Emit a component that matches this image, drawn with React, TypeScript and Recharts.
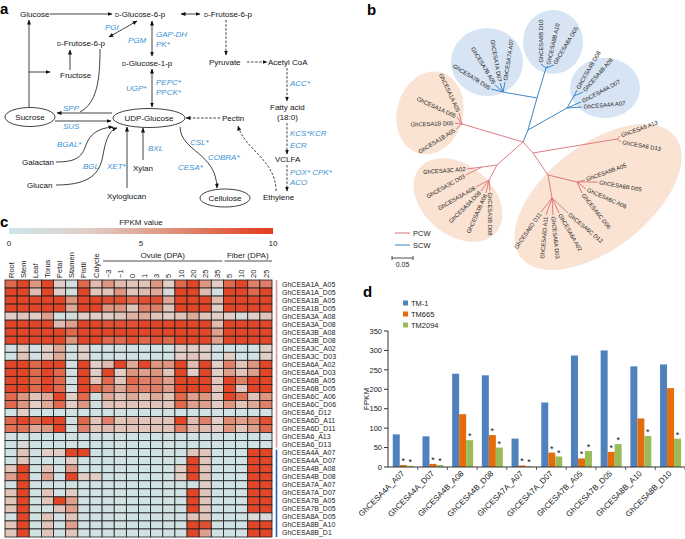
import React from 'react';
import { BarChart, Bar, XAxis, YAxis, LabelList, ScatterChart, Scatter, ReferenceLine } from 'recharts';

const FONT = '"Liberation Sans", Arial, Helvetica, sans-serif';
const BLUE_TXT = '#3d92d2';

// ---------------- panel d data ----------------
const dGenes = ['GhCESA4A_A07', 'GhCESA4A_D07', 'GhCESA4B_A08', 'GhCESA4B_D08', 'GhCESA7A_A07', 'GhCESA7A_D07', 'GhCESA7B_A05', 'GhCESA7B_D05', 'GhCESA8B_A10', 'GhCESA8B_D10'];
const dTM1 = [84, 79, 240, 236, 73, 166, 287, 300, 259, 264];
const dTM665 = [5, 8, 136, 82, 4, 37, 22, 39, 125, 203];
const dTM2094 = [3, 5, 69, 50, 2, 27, 41, 59, 80, 73];
const dSig665 = [true, true, false, true, true, true, true, true, false, false];
const dSig2094 = [true, true, true, true, true, true, true, true, true, true];
const dSeries = ['TM-1', 'TM665', 'TM2094'];
const dColors = ['#4F81BD', '#E46C0A', '#9BBB59'];
const dTicks = [0, 50, 100, 150, 200, 250, 300, 350];

// ---------------- panel c data ----------------
const cCols = ['Root', 'Stem', 'Leaf', 'Torus', 'Petal', 'Stamen', 'Pistil', 'Calycle', '\u22123', '\u22121', '0', '1', '3', '5', '10', '20', '25', '35', '5', '10', '20', '25'];
const cRows = ['GhCESA1A_A05', 'GhCESA1A_D05', 'GhCESA1B_A05', 'GhCESA1B_D05', 'GhCESA3A_A08', 'GhCESA3A_D08', 'GhCESA3B_A08', 'GhCESA3B_D08', 'GhCESA3C_A02', 'GhCESA3C_D03', 'GhCESA6A_A02', 'GhCESA6A_D03', 'GhCESA6B_A05', 'GhCESA6B_D05', 'GhCESA6C_A06', 'GhCESA6C_D06', 'GhCESA6_D12', 'GhCESA6D_A11', 'GhCESA6D_D11', 'GhCESA6_A13', 'GhCESA6_D13', 'GhCESA4A_A07', 'GhCESA4A_D07', 'GhCESA4B_A08', 'GhCESA4B_D08', 'GhCESA7A_A07', 'GhCESA7A_D07', 'GhCESA7B_A05', 'GhCESA7B_D05', 'GhCESA8A_D05', 'GhCESA8B_A10', 'GhCESA8B_D1'];
const cFpkm = [
  [8, 9.5, 6, 9.5, 3, 1, 8, 4, 6, 4, 3.5, 3.5, 6, 3, 8, 9.5, 6, 3, 8, 9.5, 7, 7],
  [9.5, 9.5, 4, 9.5, 3, 1, 9.5, 3.5, 3.5, 6, 3.5, 4, 5, 1.5, 9.5, 9.5, 4, 1, 9.5, 9.5, 8, 9.5],
  [9.5, 9.5, 9.5, 9.5, 9.5, 6, 9.5, 9.5, 9, 9, 8, 9, 9, 5, 9.5, 9.5, 9.5, 4, 9.5, 9.5, 9.5, 9.5],
  [9.5, 9.5, 9.5, 9.5, 9.5, 5, 9.5, 9.5, 6, 6, 3.5, 7, 7, 3.5, 9.5, 9.5, 9.5, 3, 9.5, 9.5, 9.5, 9.5],
  [3, 3.5, 3, 5.5, 1, 1, 3, 3, 3, 3.5, 4.5, 5, 3.5, 3, 3.5, 5, 3.5, 3, 3, 1.5, 3, 3.5],
  [9.5, 9.5, 9.5, 9.5, 4, 5.5, 9.5, 9.5, 9, 9, 9, 9.5, 9.5, 9.5, 9.5, 9.5, 9.5, 4, 9.5, 9.5, 9.5, 9.5],
  [9.5, 9.5, 9.5, 9.5, 9.5, 8, 9.5, 9.5, 9.5, 9.5, 9.5, 9.5, 9.5, 9.5, 9.5, 9.5, 9.5, 5.5, 9.5, 9.5, 9.5, 9.5],
  [9.5, 9.5, 9.5, 9.5, 9.5, 6, 9.5, 9.5, 8, 8, 9, 8, 9, 8, 9.5, 9.5, 9.5, 5.5, 9.5, 9.5, 9.5, 9.5],
  [0.5, 3, 0.5, 3, 5, 0.5, 3, 0.5, 0.5, 0.5, 0.5, 0.5, 0.5, 0.5, 3, 3, 3, 0.5, 0.5, 0.5, 0.5, 3],
  [0.5, 3.5, 0.5, 3, 5, 0.5, 3, 0.5, 0.5, 0.5, 0.5, 0.5, 0.5, 0.5, 3, 3.5, 3, 0.5, 3, 0.5, 0.5, 3],
  [9.5, 9.5, 8, 9.5, 9.5, 1, 9.5, 3, 4, 9.5, 5, 9.5, 6, 6, 9.5, 4, 9.5, 3, 7, 3.5, 6, 9.5],
  [9.5, 9.5, 8, 9.5, 8, 1, 9.5, 3, 9.5, 3, 6, 5.5, 6, 3.5, 9.5, 3, 9.5, 3, 5.5, 3.5, 5.5, 9.5],
  [9.5, 9.5, 8, 9.5, 8, 1, 9.5, 3.5, 8, 3.5, 8, 7, 7, 5.5, 9.5, 9.5, 9.5, 3.5, 9.5, 7, 9.5, 9.5],
  [9.5, 9.5, 8, 9.5, 8, 1, 9.5, 8, 7, 5, 7, 7, 7, 5.5, 9.5, 9.5, 9.5, 3.5, 9.5, 3.5, 9.5, 9.5],
  [8, 6, 3.5, 5, 9.5, 3, 8, 1, 5, 3.5, 5, 3.5, 5, 3.5, 8, 5.5, 6, 3, 9.5, 7.5, 3.5, 6],
  [8, 6, 3, 5, 8, 3, 6, 1, 3.5, 3.5, 3.5, 3.5, 3.5, 3.5, 8, 5.5, 5.5, 3, 6, 3.5, 5, 7],
  [0.5, 3, 0.5, 0.5, 0.5, 0.5, 0.5, 0.5, 0.5, 0.5, 0.5, 0.5, 0.5, 0.5, 0.5, 0.5, 0.5, 0.5, 0.5, 0.5, 0.5, 0.5],
  [8, 9.5, 8, 9.5, 9.5, 1, 8, 3.5, 7, 3.5, 4, 3.5, 3.5, 3.5, 9.5, 4, 7, 3, 6.5, 5.5, 6.5, 9],
  [7.5, 7.5, 5, 6, 9.5, 1, 7, 3.5, 4, 3.5, 3.5, 3.5, 3.5, 3.5, 7, 4, 4, 3, 6, 3.5, 5.5, 8],
  [0.5, 0.5, 0.5, 0.5, 0.5, 0.5, 0.5, 0.5, 0.5, 0.5, 0.5, 0.5, 0.5, 0.5, 0.5, 0.5, 0.5, 0.5, 0.5, 0.5, 0.5, 0.5],
  [0.5, 1.5, 0.5, 0.5, 0.5, 0.5, 0.5, 0.5, 0.5, 0.5, 0.5, 0.5, 0.5, 0.5, 0.5, 0.5, 0.5, 0.5, 0.5, 0.5, 0.5, 0.5],
  [0.5, 3.5, 0.5, 3, 3, 9.5, 9.5, 0.5, 0.5, 0.5, 0.5, 0.5, 0.5, 0.5, 0.5, 3.5, 3.5, 0.5, 0.5, 0.5, 9.5, 9.5],
  [0.5, 3.5, 0.5, 0.5, 0.5, 3, 0.5, 0.5, 0.5, 0.5, 0.5, 0.5, 0.5, 0.5, 0.5, 9.5, 3.5, 0.5, 0.5, 0.5, 9.5, 9.5],
  [3.5, 9.5, 0.5, 3.5, 0.5, 5.5, 0.5, 0.5, 0.5, 0.5, 0.5, 0.5, 0.5, 0.5, 3, 9.5, 3.5, 0.5, 0.5, 0.5, 9.5, 9.5],
  [5.5, 9.5, 0.5, 5.5, 0.5, 9.5, 3, 3, 0.5, 0.5, 0.5, 0.5, 0.5, 0.5, 3, 9.5, 3.5, 0.5, 0.5, 0.5, 9.5, 9.5],
  [0.5, 9.5, 0.5, 0.5, 0.5, 0.5, 0.5, 0.5, 0.5, 0.5, 0.5, 0.5, 0.5, 0.5, 0.5, 0.5, 3, 0.5, 0.5, 0.5, 9.5, 9.5],
  [3.5, 9.5, 0.5, 3.5, 0.5, 3, 0.5, 0.5, 0.5, 0.5, 0.5, 0.5, 0.5, 0.5, 0.5, 9.5, 3.5, 0.5, 0.5, 0.5, 9.5, 9.5],
  [3.5, 9.5, 0.5, 3.5, 9.5, 5.5, 0.5, 0.5, 0.5, 0.5, 0.5, 0.5, 0.5, 0.5, 0.5, 9.5, 3.5, 0.5, 0.5, 0.5, 9.5, 9.5],
  [3.5, 9.5, 0.5, 0.5, 3.5, 5.5, 0.5, 0.5, 0.5, 0.5, 0.5, 0.5, 0.5, 0.5, 0.5, 9.5, 3.5, 0.5, 0.5, 0.5, 9.5, 9.5],
  [0.5, 9.5, 0.5, 3.5, 0.5, 3.5, 0.5, 0.5, 0.5, 0.5, 0.5, 0.5, 0.5, 0.5, 0.5, 3.5, 3.5, 0.5, 0.5, 0.5, 1.5, 1.5],
  [3.5, 9.5, 0.5, 3.5, 0.5, 5.5, 0.5, 0.5, 0.5, 0.5, 0.5, 0.5, 0.5, 0.5, 0.5, 9.5, 9, 0.5, 0.5, 0.5, 9.5, 9.5],
  [3.5, 9.5, 0.5, 3.5, 0.5, 3.5, 0.5, 0.5, 0.5, 0.5, 0.5, 0.5, 0.5, 0.5, 0.5, 9.5, 5.5, 0.5, 0.5, 0.5, 9.5, 9.5],
];
const cColorTicks = [0, 5, 10];

// ---------------- colour scale ----------------
const STOPS: [number, number[]][] = [
  [0, [204, 230, 234]],
  [0.3, [226, 206, 199]],
  [0.6, [222, 150, 128]],
  [1, [225, 58, 27]],
];
function heatColor(v: number) {
  const t = Math.max(0, Math.min(1, v / 10));
  for (let i = 1; i < STOPS.length; i++) {
    if (t <= STOPS[i][0]) {
      const [t0, c0] = STOPS[i - 1];
      const [t1, c1] = STOPS[i];
      const f = (t - t0) / (t1 - t0);
      const c = c0.map((x, k) => Math.round(x + (c1[k] - x) * f));
      return `rgb(${c[0]},${c[1]},${c[2]})`;
    }
  }
  return 'rgb(225,58,27)';
}

// ---------------- layout ----------------
const HM_TOP = 250, HM_W = 340, HM_H = 289;
const HM_X0 = 5, HM_X1 = 272, HM_Y0 = 280, HM_Y1 = 537;
const CW = (HM_X1 - HM_X0) / cCols.length;
const CH = (HM_Y1 - HM_Y0) / cRows.length;

const D_LEFT = 340, D_TOP = 280, D_W = 345, D_H = 259;
const D_PLOT_L = 388, D_PLOT_T = 331, D_PLOT_B = 467, D_PLOT_R = 685;
const D_BW = (D_PLOT_R - D_PLOT_L) / dGenes.length;

const cells = cFpkm.flatMap((row, r) => row.map((v, c) => ({ c, r, v })));
const dData = dGenes.map((g, i) => ({ g, a: dTM1[i], b: dTM665[i], c: dTM2094[i], sb: dSig665[i], sc: dSig2094[i] }));

const CellShape = (p: any) => (
  <rect x={p.cx - CW / 2} y={p.cy - CH / 2} width={CW} height={CH} fill={heatColor(p.payload.v)} stroke="#1d1d1d" strokeWidth={0.8} />
);
const ColTick = (p: any) => (
  <text x={p.x + 2.6} y={p.y} fontSize={7.5} fill="#222" textAnchor="start" transform={`rotate(-90, ${p.x + 2.6}, ${p.y})`}>
    {cCols[p.payload.value]}
  </text>
);
const RowTick = (p: any) => (
  <text x={p.x + 10} y={p.y} dy={2.5} fontSize={7} fill="#222" textAnchor="start">
    {cRows[p.payload.value]}
  </text>
);
const DTick = (p: any) => (
  <g>
    <line x1={p.x + D_BW / 2} x2={p.x + D_BW / 2} y1={p.y} y2={p.y + 3} stroke="#333" strokeWidth={0.8} />
    <text x={p.x + 2} y={p.y + 7} fontSize={8} fill="#222" textAnchor="end" transform={`rotate(-45, ${p.x + 2}, ${p.y + 7})`}>
      {p.payload.value}
    </text>
  </g>
);
const Star = (p: any) =>
  p.value ? (
    <text x={p.x + p.width / 2} y={p.y - 1} fontSize={9} fill="#111" textAnchor="middle">*</text>
  ) : null;

// ---------------- diagram helpers ----------------
const T = ({ x, y, children, blue = false, anchor = 'start', size = 8 }: any) => (
  <text x={x} y={y + 2.8} fontSize={size} fill={blue ? BLUE_TXT : '#111'} fontStyle={blue ? 'italic' : 'normal'} textAnchor={anchor}>
    {children}
  </text>
);
const SD = () => <tspan fontSize={5.6}>D</tspan>;

const Leaf = ({ x, y, a, t }: any) => {
  const rad = (a * Math.PI) / 180;
  const ox = x + Math.cos(rad) * 1.5;
  const oy = y + Math.sin(rad) * 1.5;
  const flip = Math.abs(a) > 90;
  const rot = flip ? a + 180 : a;
  return (
    <text x={ox} y={oy} dy={2} fontSize={5.8} fill="#222" textAnchor={flip ? 'end' : 'start'} transform={`rotate(${rot}, ${ox}, ${oy})`}>
      {t}
    </text>
  );
};

const ROOT: [number, number] = [523, 142];
const redSegs: number[][] = [
  [...ROOT, 462, 124], [462, 124, 459, 113], [462, 124, 457, 117], [462, 124, 455, 123], [462, 124, 456, 129],
  [...ROOT, 497, 165], [497, 165, 482, 167], [482, 167, 467, 169], [482, 167, 466, 175], [497, 165, 489, 180],
  [489, 180, 476, 187], [489, 180, 481, 191], [489, 180, 486, 193], [489, 180, 490, 191],
  [...ROOT, 533, 153], [533, 153, 617, 139], [617, 139, 620, 136], [617, 139, 621, 142],
  [533, 153, 548, 175], [548, 175, 577, 182], [577, 182, 585, 180], [577, 182, 598, 182], [577, 182, 586, 189], [577, 182, 582, 193],
  [548, 175, 552, 198], [552, 198, 568, 213], [552, 198, 559, 213], [552, 198, 553, 215], [552, 198, 546, 215], [552, 198, 541, 212],
];
const blueSegs: number[][] = [
  [...ROOT, 528, 130], [528, 130, 567, 108], [567, 108, 582, 107], [567, 108, 581, 102], [567, 108, 574, 96], [574, 96, 583, 92], [574, 96, 577, 90],
  [528, 130, 537, 98], [537, 98, 543, 78], [537, 98, 503, 92], [503, 92, 491, 89], [503, 92, 495, 85], [503, 92, 500, 83], [503, 92, 505, 82],
  [543, 78, 546, 68], [546, 68, 541, 64], [546, 68, 548, 66], [546, 68, 554, 65],
];
const leaves: [number, number, number, string][] = [
  [459, 113, -115, 'GhCESA1A A05'], [457, 117, -155, 'GhCESA1A D05'], [455, 123, 178, 'GhCESA1B D05'], [456, 129, 148, 'GhCESA1B A05'],
  [467, 169, 176, 'GhCESA3C A02'], [466, 175, 151, 'GhCESA3C D03'], [476, 187, 150, 'GhCESA3A A08'], [481, 191, 135, 'GhCESA3A D08'],
  [486, 193, 114, 'GhCESA3B A08'], [490, 191, 90, 'GhCESA3B D08'],
  [620, 136, -20, 'GhCESA6 A13'], [621, 142, 10, 'GhCESA6 D13'],
  [585, 180, -20, 'GhCESA6B A05'], [598, 182, 10, 'GhCESA6B D05'], [586, 189, 24, 'GhCESA6C A06'], [582, 193, 52, 'GhCESA6C D06'],
  [568, 213, 40, 'GhCESA6C D12'], [559, 213, 60, 'GhCESA6A A02'], [553, 215, 84, 'GhCESA6A D03'], [546, 215, 95, 'GhCESA6D A11'], [541, 212, 125, 'GhCESA6D D11'],
  [582, 107, -5, 'GhCESA4A A07'], [581, 102, -28, 'GhCESA4A D07'], [583, 92, -49, 'GhCESA4B A08'], [577, 90, -60, 'GhCESA4B D08'],
  [491, 89, -148, 'GhCESA7B D05'], [495, 85, -121, 'GhCESA7B A05'], [500, 83, -100, 'GhCESA7A D07'], [505, 82, -81, 'GhCESA7A A07'],
  [541, 64, -90, 'GhCESA8B D10'], [548, 66, -77, 'GhCESA8B A10'], [554, 65, -59, 'GhCESA8A D05'],
];

export default function App() {
  return (
    <div style={{ position: 'absolute', left: 0, top: 0, width: 685, height: 539, background: '#fff', fontFamily: FONT, overflow: 'hidden' }}>
      {/* ---------- panel c heatmap ---------- */}
      <div style={{ position: 'absolute', left: 0, top: HM_TOP }}>
        <ScatterChart width={HM_W} height={HM_H} margin={{ top: 0, right: 0, bottom: HM_TOP + HM_H - HM_Y1, left: HM_X0 }}>
          <XAxis type="number" dataKey="c" domain={[-0.5, cCols.length - 0.5]} ticks={cCols.map((_, i) => i)} orientation="top"
            height={HM_Y0 - HM_TOP} interval={0} tickLine={false} axisLine={false} tickSize={0} tickMargin={2} tick={<ColTick />} />
          <YAxis type="number" dataKey="r" domain={[-0.5, cRows.length - 0.5]} ticks={cRows.map((_, i) => i)} reversed orientation="right"
            width={HM_W - HM_X1} interval={0} tickLine={false} axisLine={false} tickSize={0} tickMargin={0} tick={<RowTick />} />
          <Scatter data={cells} shape={CellShape} isAnimationActive={false} />
          <ReferenceLine y={16.5} stroke="#000" strokeWidth={1.6} />
        </ScatterChart>
      </div>

      {/* ---------- panel d bars ---------- */}
      <div style={{ position: 'absolute', left: D_LEFT, top: D_TOP }}>
        <BarChart width={D_W} height={D_H} data={dData} margin={{ top: D_PLOT_T - D_TOP, right: D_LEFT + D_W - D_PLOT_R, bottom: 0, left: 0 }}
          barCategoryGap="16%" barGap={0}>
          <XAxis dataKey="g" height={D_TOP + D_H - D_PLOT_B} interval={0} tickLine={false} tickSize={0} tickMargin={0} tick={<DTick />} stroke="#333" />
          <YAxis width={D_PLOT_L - D_LEFT} domain={[0, 350]} ticks={dTicks} interval={0} tickSize={4} tickMargin={2} stroke="#333"
            tick={{ fontSize: 7.5, fill: '#222' }} />
          <Bar dataKey="a" fill={dColors[0]} isAnimationActive={false} />
          <Bar dataKey="b" fill={dColors[1]} isAnimationActive={false}>
            <LabelList dataKey="sb" content={<Star />} />
          </Bar>
          <Bar dataKey="c" fill={dColors[2]} isAnimationActive={false}>
            <LabelList dataKey="sc" content={<Star />} />
          </Bar>
        </BarChart>
      </div>

      {/* ---------- overlay: panels a, b, annotations ---------- */}
      <svg width={685} height={539} style={{ position: 'absolute', left: 0, top: 0, pointerEvents: 'none' }} fontFamily={FONT}>
        <defs>
          <marker id="ar" viewBox="0 0 10 10" refX="9" refY="5" markerUnits="userSpaceOnUse" markerWidth="5" markerHeight="5" orient="auto-start-reverse">
            <path d="M0,1 L10,5 L0,9 z" fill="#111" />
          </marker>
          <linearGradient id="cbar" x1="0" x2="1" y1="0" y2="0">
            {STOPS.map(([t, c]) => (
              <stop key={t} offset={t} stopColor={`rgb(${c[0]},${c[1]},${c[2]})`} />
            ))}
          </linearGradient>
        </defs>

        {/* panel letters */}
        <text x={0} y={14} fontSize={15} fontWeight="bold">a</text>
        <text x={367} y={15} fontSize={15} fontWeight="bold">b</text>
        <text x={0} y={227} fontSize={15} fontWeight="bold">c</text>
        <text x={363} y={297} fontSize={15} fontWeight="bold">d</text>

        {/* ----- panel a ----- */}
        <g stroke="#111" strokeWidth={0.8} fill="none">
          <line x1={50} y1={14} x2={112} y2={14} markerEnd="url(#ar)" />
          <line x1={181} y1={14} x2={200} y2={14} markerStart="url(#ar)" markerEnd="url(#ar)" />
          <line x1={109} y1={37} x2={137} y2={21} markerStart="url(#ar)" markerEnd="url(#ar)" />
          <line x1={152} y1={21} x2={152} y2={56} markerStart="url(#ar)" markerEnd="url(#ar)" />
          <line x1={152} y1={69} x2={152} y2={107} markerStart="url(#ar)" markerEnd="url(#ar)" />
          <line x1={29} y1={107} x2={29} y2={20} markerEnd="url(#ar)" />
          <line x1={29} y1={72} x2={50} y2={72} markerEnd="url(#ar)" />
          <line x1={70} y1={70} x2={70} y2={50} markerEnd="url(#ar)" />
          <path d="M100 49 C100 80 97 103 80 112" />
          <line x1={112} y1={113} x2={57} y2={113} markerEnd="url(#ar)" />
          <line x1={55} y1={121} x2={111} y2={121} markerEnd="url(#ar)" />
          <path d="M56 162 C78 162 82 156 86 145 C90 134 98 128 113 127" markerEnd="url(#ar)" />
          <path d="M56 185 C92 185 100 172 103 155 C106 138 110 130 117 128" markerEnd="url(#ar)" />
          <line x1={127} y1={188} x2={127} y2={127} markerEnd="url(#ar)" />
          <line x1={143} y1={160} x2={143} y2={128} markerEnd="url(#ar)" />
          <path d="M180 127 C181 152 216 152 217 188" markerEnd="url(#ar)" />
          <g strokeDasharray="2.5 1.6">
            <line x1={220} y1={118} x2={186} y2={118} markerEnd="url(#ar)" />
            <line x1={226} y1={20} x2={226} y2={55} markerEnd="url(#ar)" />
            <line x1={247} y1={62} x2={267} y2={62} markerEnd="url(#ar)" />
            <line x1={287} y1={68} x2={287} y2={101} markerEnd="url(#ar)" />
            <line x1={287} y1={123} x2={287} y2={154} markerEnd="url(#ar)" />
            <line x1={287} y1={165} x2={287} y2={191} markerEnd="url(#ar)" />
            <path d="M276 191 C276 160 245 150 238 126" markerEnd="url(#ar)" />
          </g>
          <ellipse cx={30} cy={117} rx={25} ry={9.5} />
          <ellipse cx={149} cy={118} rx={36} ry={9.5} />
          <ellipse cx={225} cy={198} rx={25} ry={9} />
        </g>
        <T x={20} y={14}>Glucose</T>
        <T x={115} y={14}><SD />-Glucose-6-p</T>
        <T x={204} y={14}><SD />-Frutose-6-p</T>
        <T x={105} y={27} blue>PGI</T>
        <T x={57} y={43}><SD />-Frutose-6-p</T>
        <T x={128} y={40} blue>PGM</T>
        <T x={156} y={34} blue>GAP-DH</T>
        <T x={156} y={44} blue>PK*</T>
        <T x={122} y={63}><SD />-Glucose-1-p</T>
        <T x={209} y={62}>Pyruvate</T>
        <T x={268} y={62}>Acetyl CoA</T>
        <T x={60} y={75}>Fructose</T>
        <T x={126} y={88} blue>UGP*</T>
        <T x={156} y={82} blue>PEPC*</T>
        <T x={156} y={92} blue>PPCK*</T>
        <T x={290} y={83} blue>ACC*</T>
        <T x={270} y={107}>Fatty acid</T>
        <T x={277} y={117}>(18:0)</T>
        <T x={63} y={108} blue>SPP</T>
        <T x={30} y={117} anchor="middle">Sucrose</T>
        <T x={149} y={118} anchor="middle">UDP-Glucose</T>
        <T x={222} y={118}>Pectin</T>
        <T x={63} y={126} blue>SUS</T>
        <T x={290} y={133} blue>KCS*KCR</T>
        <T x={290} y={145} blue>ECR</T>
        <T x={57} y={144} blue>BGAL*</T>
        <T x={148} y={148} blue>BXL</T>
        <T x={190} y={142} blue>CSL*</T>
        <T x={208} y={157} blue>COBRA*</T>
        <T x={275} y={159}>VCLFA</T>
        <T x={22} y={162}>Galactan</T>
        <T x={83} y={166} blue>BGL</T>
        <T x={107} y={166} blue>XET*</T>
        <T x={133} y={168}>Xylan</T>
        <T x={178} y={167} blue>CESA*</T>
        <T x={290} y={172} blue>POX* CPK*</T>
        <T x={290} y={182} blue>ACO</T>
        <T x={27} y={185}>Glucan</T>
        <T x={107} y={196}>Xyloglucan</T>
        <T x={225} y={198} anchor="middle">Cellulose</T>
        <T x={263} y={197}>Ethylene</T>

        {/* ----- panel b ----- */}
        <g>
          <ellipse cx={430} cy={113} rx={33} ry={42} transform="rotate(15, 430, 113)" fill="#fae3d3" />
          <ellipse cx={458} cy={200} rx={50} ry={35} transform="rotate(40, 458, 200)" fill="#fae3d3" />
          <ellipse cx={598} cy={197} rx={98} ry={52} transform="rotate(-38, 598, 197)" fill="#fae3d3" />
          <ellipse cx={487} cy={62} rx={36} ry={34} fill="#d6e4f3" />
          <ellipse cx={553} cy={42} rx={30} ry={32} fill="#d6e4f3" />
          <ellipse cx={605} cy={88} rx={35} ry={30} fill="#d6e4f3" />
          <g stroke="#dc6e76" strokeWidth={0.9}>
            {redSegs.map((s, i) => <line key={i} x1={s[0]} y1={s[1]} x2={s[2]} y2={s[3]} />)}
          </g>
          <g stroke="#3f86c8" strokeWidth={1}>
            {blueSegs.map((s, i) => <line key={i} x1={s[0]} y1={s[1]} x2={s[2]} y2={s[3]} />)}
          </g>
          {leaves.map((l, i) => <Leaf key={i} x={l[0]} y={l[1]} a={l[2]} t={l[3]} />)}
          <line x1={395} y1={233} x2={410} y2={233} stroke="#dc6e76" strokeWidth={1} />
          <line x1={395} y1={245} x2={410} y2={245} stroke="#3f86c8" strokeWidth={1} />
          <text x={413} y={235.7} fontSize={7.5} fill="#222">PCW</text>
          <text x={413} y={247.7} fontSize={7.5} fill="#222">SCW</text>
          <g stroke="#222" strokeWidth={0.8}>
            <line x1={392} y1={258} x2={413} y2={258} />
            <line x1={392} y1={256} x2={392} y2={260} />
            <line x1={413} y1={256} x2={413} y2={260} />
          </g>
          <text x={402.5} y={267} fontSize={7} fill="#222" textAnchor="middle">0.05</text>
        </g>

        {/* ----- panel c annotations ----- */}
        <text x={141} y={225} fontSize={8} fill="#222" textAnchor="middle">FPKM value</text>
        <rect x={9} y={228} width={264} height={6} fill="url(#cbar)" />
        {cColorTicks.map((t) => (
          <text key={t} x={9 + (264 * t) / 10} y={246} fontSize={8} fill="#222" textAnchor="middle">{t}</text>
        ))}
        <text x={HM_X0 + 13 * CW} y={258} fontSize={8} fill="#222" textAnchor="middle">Ovule (DPA)</text>
        <line x1={HM_X0 + 8 * CW + 1} x2={HM_X0 + 18 * CW - 1} y1={261} y2={261} stroke="#222" strokeWidth={0.8} />
        <text x={HM_X0 + 20 * CW} y={258} fontSize={8} fill="#222" textAnchor="middle">Fiber (DPA)</text>
        <line x1={HM_X0 + 18 * CW + 1} x2={HM_X1} y1={261} y2={261} stroke="#222" strokeWidth={0.8} />
        <line x1={276.5} x2={276.5} y1={HM_Y0} y2={HM_Y0 + 21 * CH - 1} stroke="#e0959a" strokeWidth={1.6} />
        <line x1={276.5} x2={276.5} y1={HM_Y0 + 21 * CH + 1} y2={HM_Y1} stroke="#2a5bcf" strokeWidth={1.6} />

        {/* ----- panel d annotations ----- */}
        <text x={369} y={399} fontSize={8} fill="#222" textAnchor="middle" transform="rotate(-90, 369, 399)">FPKM</text>
        {dSeries.map((s, i) => (
          <g key={s}>
            <rect x={403} y={300.5 + i * 11} width={5} height={5} fill={dColors[i]} />
            <text x={411} y={305.5 + i * 11} fontSize={7.5} fill="#222">{s}</text>
          </g>
        ))}
      </svg>
    </div>
  );
}
